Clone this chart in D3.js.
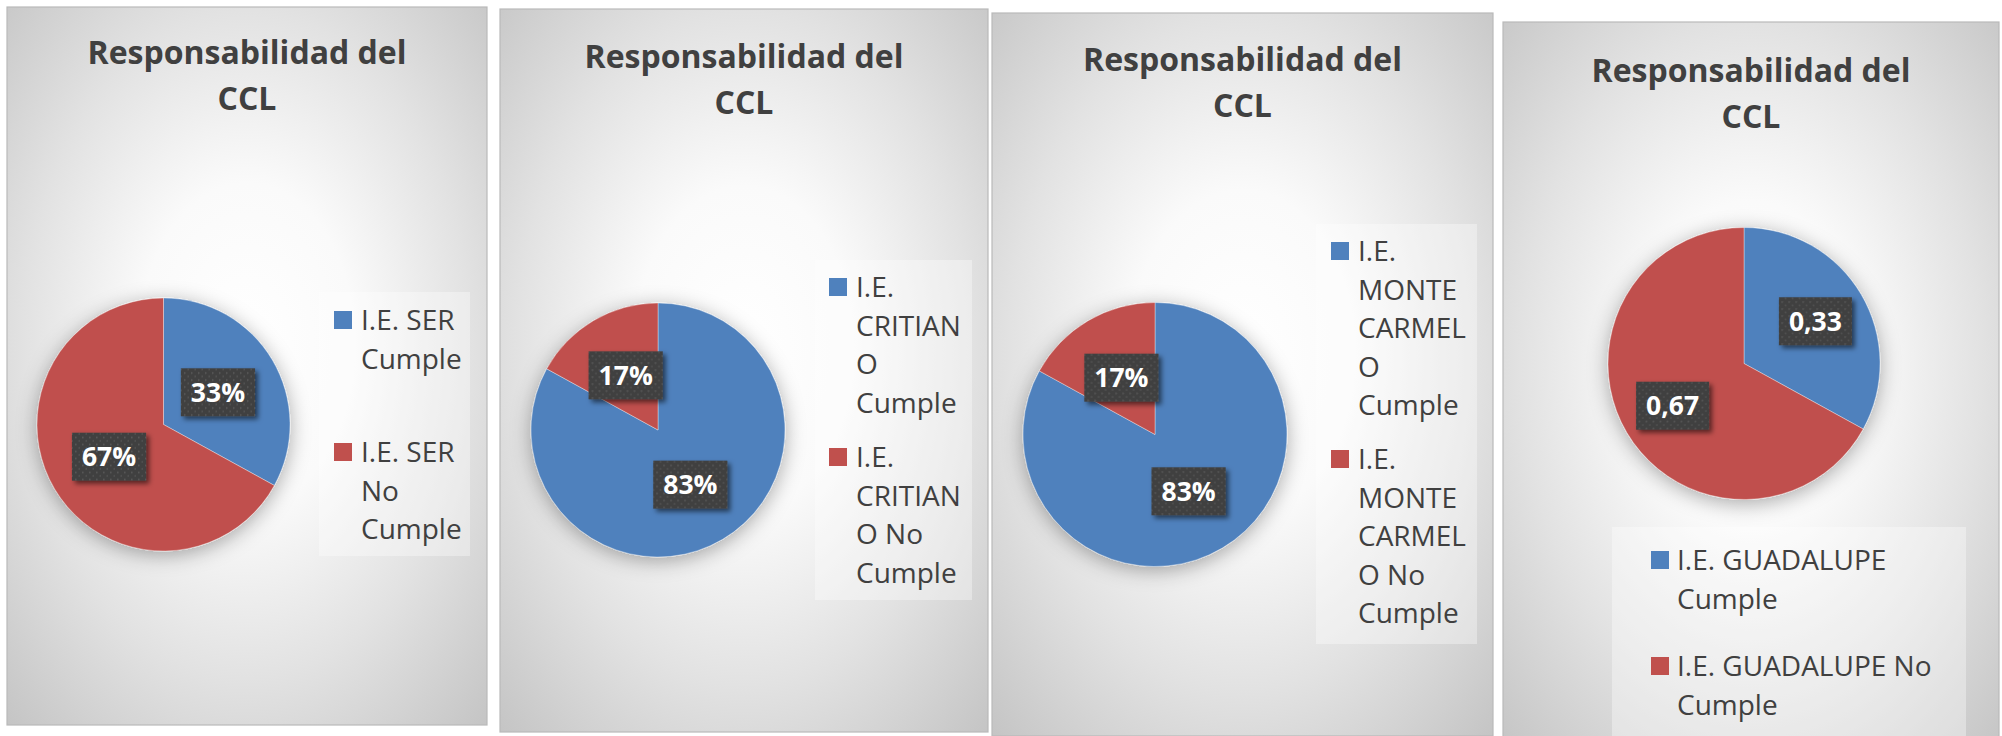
<!DOCTYPE html>
<html>
<head>
<meta charset="utf-8">
<script src="https://cdn.jsdelivr.net/npm/d3@7"></script>
<style>
  body { margin: 0; background: #ffffff; }
  svg { display: block; }
</style>
</head>
<body>
<script>
// data
const titleLines = ["Responsabilidad del", "CCL"];
const schools = ["I.E. SER", "I.E. CRITIANO", "I.E. MONTE CARMELO", "I.E. GUADALUPE"];
const categories = ["Cumple", "No Cumple"];
const cumpleValues = [0.33, 0.83, 0.83, 0.33];
const noCumpleValues = [0.67, 0.17, 0.17, 0.67];
const labelStyles = ["percent", "percent", "percent", "decimal"];

// legend entries, broken into lines the way the picture shows them
const legendLines = [
	[["I.E. SER", "Cumple"], ["I.E. SER", "No", "Cumple"]],
	[["I.E.", "CRITIAN", "O", "Cumple"], ["I.E.", "CRITIAN", "O No", "Cumple"]],
	[["I.E.", "MONTE", "CARMEL", "O", "Cumple"], ["I.E.", "MONTE", "CARMEL", "O No", "Cumple"]],
	[["I.E. GUADALUPE", "Cumple"], ["I.E. GUADALUPE No", "Cumple"]],
];

const colors = ["#4f81bd", "#c0504d"];
const textColor = "#404040";

// where each chart sits on the page
const layout = [
	{ x: 7, y: 7, w: 480, h: 718, cx: 163.5, cy: 424.5, r: 126.5, labelR: 0.5, titleY: 64,
		legend: { x: 319, y: 292, w: 151, h: 264, markerX: 334, textX: 361, itemY: [330, 462] } },
	{ x: 500, y: 9, w: 488, h: 723, cx: 658, cy: 430, r: 127, labelR: 0.5, titleY: 68,
		legend: { x: 815, y: 260, w: 157, h: 340, markerX: 829, textX: 856, itemY: [297, 467] } },
	{ x: 992, y: 13, w: 501, h: 723, cx: 1155, cy: 434.5, r: 132, labelR: 0.5, titleY: 71,
		legend: { x: 1316, y: 224, w: 161, h: 420, markerX: 1331, textX: 1358, itemY: [261, 469] } },
	{ x: 1503, y: 22, w: 496, h: 730, cx: 1744, cy: 363.5, r: 136, labelR: 0.61, titleY: 82,
		legend: { x: 1612, y: 527, w: 354, h: 220, markerX: 1651, textX: 1677, itemY: [570, 676] } },
];

const width = 2002;
const height = 736;
const legendLineHeight = 38.6;

const commaLocale = d3.formatLocale({ decimal: ",", thousands: ".", grouping: [3], currency: ["", "€"] });
const formatters = {
	percent: d3.format(".0%"),
	decimal: commaLocale.format(".2f"),
};

const svg = d3
	.select("body")
	.append("svg")
	.attr("width", width)
	.attr("height", height)
	.attr("viewBox", `0 0 ${width} ${height}`);

const defs = svg.append("defs");

// panel background: white centre fading to grey edges
const bg = defs
	.append("radialGradient")
	.attr("id", "panelBg")
	.attr("cx", "50%")
	.attr("cy", "47%")
	.attr("r", "75%");
bg.append("stop").attr("offset", "0%").attr("stop-color", "#ffffff");
bg.append("stop").attr("offset", "30%").attr("stop-color", "#fafafa");
bg.append("stop").attr("offset", "62%").attr("stop-color", "#e2e2e2");
bg.append("stop").attr("offset", "100%").attr("stop-color", "#c2c2c2");

// soft glow under the pies
const pieShadow = defs
	.append("filter")
	.attr("id", "pieShadow")
	.attr("x", "-30%")
	.attr("y", "-30%")
	.attr("width", "160%")
	.attr("height", "160%");
pieShadow
	.append("feDropShadow")
	.attr("dx", 0)
	.attr("dy", 4)
	.attr("stdDeviation", 10)
	.attr("flood-color", "#000000")
	.attr("flood-opacity", 0.33);

// shadow under the data label boxes
const labelShadow = defs
	.append("filter")
	.attr("id", "labelShadow")
	.attr("x", "-20%")
	.attr("y", "-20%")
	.attr("width", "150%")
	.attr("height", "160%");
labelShadow
	.append("feDropShadow")
	.attr("dx", 3)
	.attr("dy", 3)
	.attr("stdDeviation", 2.5)
	.attr("flood-color", "#000000")
	.attr("flood-opacity", 0.55);

// dotted texture inside the label boxes
const dots = defs
	.append("pattern")
	.attr("id", "dots")
	.attr("width", 7)
	.attr("height", 7)
	.attr("patternUnits", "userSpaceOnUse");
dots.append("rect").attr("width", 7).attr("height", 7).attr("fill", "#3f3f3f");
dots.append("circle").attr("cx", 1.75).attr("cy", 1.75).attr("r", 0.9).attr("fill", "#5a5a5a");
dots.append("circle").attr("cx", 5.25).attr("cy", 5.25).attr("r", 0.9).attr("fill", "#545454");

const pie = d3.pie().sort(null).value((d) => d.value);

layout.forEach((p, i) => {
	const values = [
		{ category: categories[0], value: cumpleValues[i] },
		{ category: categories[1], value: noCumpleValues[i] },
	];
	const fmt = formatters[labelStyles[i]];
	const color = d3.scaleOrdinal().domain(categories).range(colors);

	const panel = svg.append("g").attr("class", "panel").attr("data-school", schools[i]);

	panel
		.append("rect")
		.attr("x", p.x)
		.attr("y", p.y)
		.attr("width", p.w)
		.attr("height", p.h)
		.attr("fill", "url(#panelBg)")
		.attr("stroke", "#b9b9b9")
		.attr("stroke-width", 1.2);

	// title
	panel
		.append("text")
		.attr("x", p.x + p.w / 2)
		.attr("y", p.titleY)
		.attr("text-anchor", "middle")
		.style("font-family", "'Open Sans', sans-serif")
		.style("font-weight", 700)
		.style("font-size", "32px")
		.style("fill", textColor)
		.selectAll("tspan")
		.data(titleLines)
		.join("tspan")
		.attr("x", p.x + p.w / 2)
		.attr("dy", (d, j) => (j === 0 ? 0 : 46))
		.text((d) => d);

	// pie
	const arc = d3.arc().innerRadius(0).outerRadius(p.r);
	const labelArc = d3
		.arc()
		.innerRadius(p.r * p.labelR)
		.outerRadius(p.r * p.labelR);

	const pieG = panel.append("g").attr("transform", `translate(${p.cx},${p.cy})`);

	pieG
		.append("g")
		.attr("filter", "url(#pieShadow)")
		.selectAll("path")
		.data(pie(values))
		.join("path")
		.attr("d", arc)
		.attr("fill", (d) => color(d.data.category))
		.attr("stroke", "#ffffff")
		.attr("stroke-opacity", 0.6)
		.attr("stroke-width", 0.6);

	// data labels
	const labels = pieG
		.selectAll("g.label")
		.data(pie(values))
		.join("g")
		.attr("class", "label")
		.attr("transform", (d) => `translate(${labelArc.centroid(d)})`);

	const boxRect = labels
		.append("rect")
		.attr("fill", "url(#dots)")
		.attr("filter", "url(#labelShadow)");

	const labelText = labels
		.append("text")
		.attr("text-anchor", "middle")
		.attr("y", 9.5)
		.style("font-family", "'Open Sans', sans-serif")
		.style("font-weight", 700)
		.style("font-size", "26.5px")
		.style("fill", "#ffffff")
		.text((d) => fmt(d.data.value));

	labelText.each(function (d, j) {
		const tw = this.getComputedTextLength();
		const bw = tw + 20;
		const bh = 48;
		d3.select(boxRect.nodes()[j])
			.attr("x", -bw / 2)
			.attr("y", -bh / 2)
			.attr("width", bw)
			.attr("height", bh);
	});

	// legend
	const lg = p.legend;
	panel
		.append("rect")
		.attr("x", lg.x)
		.attr("y", lg.y)
		.attr("width", lg.w)
		.attr("height", lg.h)
		.attr("fill", "#ffffff")
		.attr("fill-opacity", 0.35);

	const items = panel
		.selectAll("g.legend-item")
		.data(categories)
		.join("g")
		.attr("class", "legend-item");

	items
		.append("rect")
		.attr("x", lg.markerX)
		.attr("y", (d, j) => lg.itemY[j] - 19)
		.attr("width", 18)
		.attr("height", 18)
		.attr("fill", (d) => color(d));

	items
		.append("text")
		.style("font-family", "'Open Sans', sans-serif")
		.style("font-size", "28px")
		.style("fill", textColor)
		.attr("y", (d, j) => lg.itemY[j])
		.selectAll("tspan")
		.data((d, j) => legendLines[i][j])
		.join("tspan")
		.attr("x", lg.textX)
		.attr("dy", (d, k) => (k === 0 ? 0 : legendLineHeight))
		.text((d) => d);
});
</script>
</body>
</html>
